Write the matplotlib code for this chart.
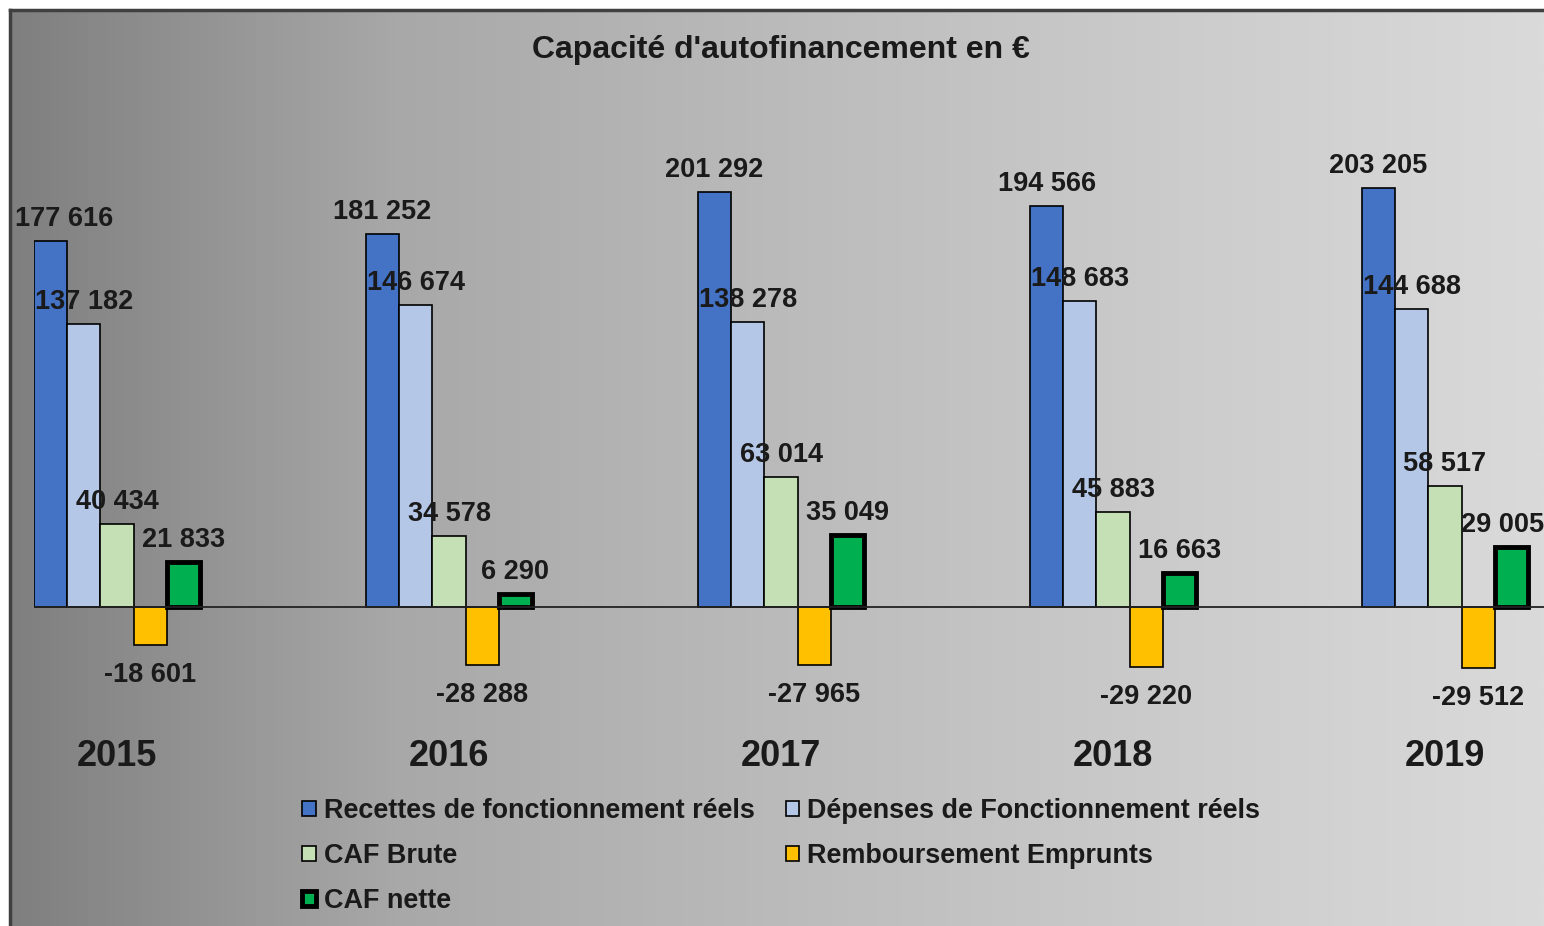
import matplotlib
matplotlib.use("Agg")
import matplotlib.pyplot as plt
import numpy as np
from matplotlib.colors import LinearSegmentedColormap
from matplotlib.transforms import blended_transform_factory

plt.rcParams['font.family'] = ['Liberation Sans', 'DejaVu Sans']

years = ["2015", "2016", "2017", "2018", "2019"]
series_names = ["Recettes de fonctionnement réels", "Dépenses de Fonctionnement réels",
                "CAF Brute", "Remboursement Emprunts", "CAF nette"]
recettes = [177616, 181252, 201292, 194566, 203205]
depenses = [137182, 146674, 138278, 148683, 144688]
caf_brute = [40434, 34578, 63014, 45883, 58517]
remboursement = [-18601, -28288, -27965, -29220, -29512]
caf_nette = [21833, 6290, 35049, 16663, 29005]
series = [recettes, depenses, caf_brute, remboursement, caf_nette]
colors = ["#4472C4", "#B4C7E7", "#C5E0B4", "#FFC000", "#00B050"]
edge_widths = [1.2, 1.2, 1.2, 1.2, 3.5]
title = "Capacité d'autofinancement en €"

W, H = 1544, 926
fig = plt.figure(figsize=(W / 100, H / 100), dpi=100)
fig.patch.set_facecolor("white")

# gradient background frame
bg = fig.add_axes([10 / W, 0, 1 - 10 / W, (H - 10) / H])
cmap = LinearSegmentedColormap.from_list(
    "g", [(0, "#7f7f7f"), (0.25, "#a8a8a8"), (0.52, "#bcbcbc"), (0.78, "#cdcdcd"), (1, "#dadada")])
grad = np.linspace(0, 1, 512).reshape(1, -1)
bg.imshow(grad, aspect="auto", cmap=cmap, extent=[0, 1, 0, 1])
bg.set_xlim(0, 1)
bg.set_ylim(0, 1)
bg.set_axis_off()
fig.add_artist(plt.Line2D([10 / W, 10 / W], [0, (H - 10) / H], color="#404040", lw=2.5))
fig.add_artist(plt.Line2D([10 / W, 1], [(H - 10) / H, (H - 10) / H], color="#404040", lw=2.5))

# main axes geometry (pixels)
px_per_unit = 332.0
ax_left_px = 34
ax_right_px = W
x_left = -0.25
x_right = x_left + (ax_right_px - ax_left_px) / px_per_unit
zero_px = 607
units_per_px = 177616 / (607 - 241)
top_px, bot_px = 100, 780
y_top = (zero_px - top_px) * units_per_px
y_bot = -(bot_px - zero_px) * units_per_px

ax = fig.add_axes([ax_left_px / W, (H - bot_px) / H, (ax_right_px - ax_left_px) / W, (bot_px - top_px) / H])
ax.set_xlim(x_left, x_right)
ax.set_ylim(y_bot, y_top)
ax.patch.set_alpha(0)
ax.set_axis_off()

x = np.arange(len(years))
bw = 0.1
n_years = len(years)
handles = []
for i, (vals, c, lw) in enumerate(zip(series, colors, edge_widths)):
    pos = x - 0.2 + i * bw
    b = ax.bar(pos, vals, width=bw, color=c, edgecolor="black", linewidth=lw, zorder=3,
               label=series_names[i])
    handles.append(b)
    for j, (p, v) in enumerate(zip(pos, vals)):
        lab = f"{abs(v):,}".replace(",", " ")
        if v < 0:
            lab = "-" + lab
        dx = 0
        if i == 0 and j == 0:
            dx = 14
        if i == len(series) - 1 and j == n_years - 1:
            dx = -9
        dy = 22 if v >= 0 else -30
        ax.annotate(lab, (p, v), xytext=(dx * 0.72, dy * 0.72), textcoords="offset points",
                    ha="center", va="center", fontsize=19.5, fontweight="bold",
                    color="#1a1a1a", zorder=5, annotation_clip=False)

ax.axhline(0, color="#222222", lw=1.3, zorder=4)

# year labels
tr = blended_transform_factory(ax.transData, fig.transFigure)
for xi, yr in zip(x, years):
    ax.text(xi, (H - 756) / H, yr, transform=tr, ha="center", va="center",
            fontsize=26, fontweight="bold", color="#1a1a1a")

fig.text(781 / W, (H - 50) / H, title, ha="center", va="center",
         fontsize=23, fontweight="bold", color="#1a1a1a")

order = [0, 2, 4, 1, 3]
leg = fig.legend([handles[k] for k in order], [series_names[k] for k in order],
                 loc="upper left", bbox_to_anchor=(302 / W, (H - 798) / H),
                 ncol=2, frameon=False, handlelength=0.5, handleheight=0.5,
                 handletextpad=0.3, columnspacing=1.15, labelspacing=0.71,
                 borderpad=0, borderaxespad=0,
                 prop={"weight": "bold", "size": 19.45})
for t in leg.get_texts():
    t.set_color("#1a1a1a")

fig.savefig("out.png", dpi=100)
